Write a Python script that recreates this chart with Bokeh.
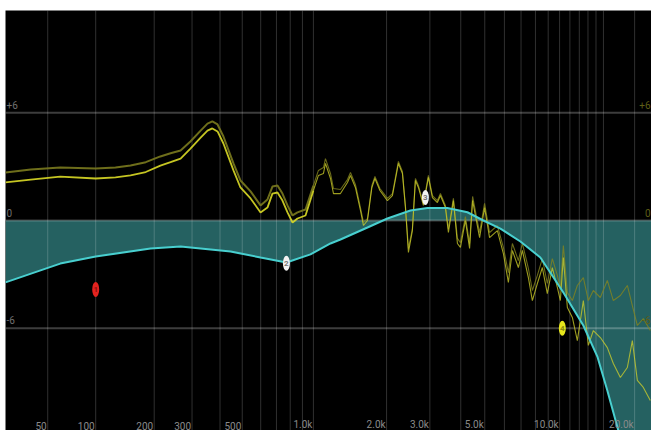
import numpy as np
from bokeh.plotting import figure
from bokeh.models import Range1d
from bokeh.core.properties import value
from bokeh.embed import file_html
from bokeh.resources import INLINE


# Frequency axis: log of (f + 40 Hz), which squeezes the low end a little
def fx(f):
    return np.log10(np.asarray(f, dtype=float) + 40.0)


F_LO, F_HI = 21, 23370
DB_LO, DB_HI = -11.7, 11.7

grid_freqs = [50, 100, 200, 300, 400, 500, 600, 700, 800, 900, 1000,
              2000, 3000, 4000, 5000, 6000, 7000, 8000, 9000, 10000,
              11000, 12000, 13000, 14000, 15000, 20000]
label_freqs = [50, 100, 200, 300, 500, 1000, 2000, 3000, 5000, 10000, 20000]
label_text = ["50", "100", "200", "300", "500", "1.0k", "2.0k", "3.0k",
              "5.0k", "10.0k", "20.0k"]
db_ticks = [6, 0, -6]
db_text = ["+6", "0", "-6"]

# EQ curve (Hz, dB)
eq_freq = [21, 61, 100, 192, 266, 445, 599, 771, 972, 1177, 1294, 1671,
           2016, 2501, 2932, 3533, 4256, 4937, 5781, 6958, 8371, 10354,
           12457, 14178, 15545, 17209, 19225, 23330]
eq_gain = [-3.45, -2.40, -2.01, -1.56, -1.45, -1.73, -2.06, -2.34, -1.89,
           -1.28, -1.06, -0.39, 0.11, 0.56, 0.70, 0.70, 0.46, 0.0, -0.45,
           -1.17, -2.06, -4.01, -5.85, -7.58, -9.47, -11.70, -13.9, -17.5]

# Measured responses (Hz, dB): two traces sharing one frequency grid
meas_freq = [21, 37, 61, 100, 128, 153, 182, 214, 239, 266, 295, 328, 352,
             370, 390, 414, 458, 491, 543, 599, 641, 673, 707, 742, 779,
             818, 858, 927, 1000, 1049, 1101, 1122, 1177, 1211, 1294, 1383,
             1423, 1491, 1564, 1609, 1671, 1742, 1793, 1879, 2016, 2113,
             2235, 2321, 2387, 2455, 2548, 2621, 2695, 2824, 2959, 3072,
             3218, 3310, 3468, 3566, 3736, 3878, 3988, 4177, 4343, 4466,
             4766, 4991, 5228, 5621, 5943, 6225, 6460, 6829, 7087, 7492,
             7774, 8142, 8526, 8927, 9350, 9795, 10071, 10354, 10744, 11254,
             11784, 12457, 13045, 13662, 14574, 15545, 16432, 17533, 18701,
             19584, 20508, 21674, 23117]
meas_a = [2.67, 2.84, 2.95, 2.90, 2.95, 3.06, 3.25, 3.57, 3.75, 3.90, 4.40,
          5.01, 5.40, 5.52, 5.35, 4.68, 3.18, 2.23, 1.62, 0.84, 1.17, 1.89,
          1.95, 1.50, 0.84, 0.28, 0.45, 0.61, 1.95, 2.79, 2.95, 3.45, 2.62,
          1.78, 1.73, 2.28, 2.67, 2.01, 0.72, -0.11, 0.11, 1.95, 2.45, 1.78,
          1.23, 1.50, 3.29, 2.73, 0.84, -1.56, -0.45, 2.34, 1.95, 0.95, 2.51,
          1.39, 1.11, 1.50, 0.84, -0.45, 1.23, -1.00, -1.23, 0.22, -1.28,
          1.34, -0.67, 0.95, -0.67, -0.28, -1.50, -2.90, -1.28, -2.23,
          -1.28, -2.67, -3.90, -3.06, -2.12, -3.51, -2.12, -3.06, -3.79,
          -1.39, -4.01, -4.46, -3.62, -3.18, -4.46, -3.90, -4.29, -3.34,
          -4.46, -4.18, -3.62, -4.74, -5.85, -5.46, -6.13]
meas_b = [2.12, 2.28, 2.45, 2.34, 2.40, 2.51, 2.70, 3.06, 3.25, 3.45, 4.01,
          4.62, 5.01, 5.13, 4.96, 4.29, 2.79, 1.84, 1.23, 0.45, 0.72, 1.50,
          1.56, 1.11, 0.45, -0.11, 0.11, 0.28, 1.67, 2.51, 2.62, 3.18, 2.34,
          1.50, 1.50, 2.12, 2.51, 1.84, 0.56, -0.28, 0.00, 1.84, 2.34, 1.67,
          1.11, 1.39, 3.18, 2.62, 0.72, -1.78, -0.56, 2.23, 1.84, 0.84, 2.40,
          1.28, 1.00, 1.39, 0.72, -0.67, 1.11, -1.28, -1.50, 0.00, -1.56,
          1.11, -0.95, 0.72, -0.95, -0.56, -1.84, -3.45, -1.67, -2.62,
          -1.67, -3.18, -4.46, -3.51, -2.62, -4.07, -2.62, -3.73, -4.46,
          -2.06, -4.85, -5.40, -6.69, -4.46, -6.96, -6.13, -6.52, -7.08,
          -7.97, -8.75, -8.19, -6.69, -8.91, -9.30, -10.03]

# EQ band handles
band_freq = [100, 771, 2877, 10256]
band_gain = [-3.84, -2.38, 1.28, -6.0]
band_id = ["1", "2", "3", "4"]
band_fill = ["#e3231f", "#f2f2f2", "#f2f2f2", "#e6e61c"]
band_digit = ["#8a1010", "#777777", "#777777", "#8a8a10"]

x_lo, x_hi = float(fx(F_LO)), float(fx(F_HI))

p = figure(width=651, height=430,
           x_range=Range1d(x_lo, x_hi), y_range=Range1d(DB_LO, DB_HI),
           output_backend="svg", toolbar_location=None,
           x_axis_location=None, y_axis_location=None,
           min_border_left=5, min_border_top=10,
           min_border_right=0, min_border_bottom=0,
           background_fill_color="black", border_fill_color="white",
           outline_line_color=None)
p.grid.visible = False

# shaded area between 0 dB and the EQ curve
p.varea(x=fx(eq_freq), y1=0, y2=eq_gain, fill_color="#256161")

# grid
gx = fx(grid_freqs)
p.segment(x0=gx, y0=DB_LO, x1=gx, y1=DB_HI,
          line_color="white", line_alpha=0.19, line_width=1)
p.segment(x0=x_lo, y0=db_ticks, x1=x_hi, y1=db_ticks,
          line_color="white", line_alpha=0.24, line_width=2)

# measured traces: smooth low range drawn heavier, noisy top end thinner
mx = fx(meas_freq)
split = meas_freq.index(1000)
lo = slice(0, split + 1)
hi = slice(split, len(meas_freq))
p.line(mx[lo], meas_a[lo], line_color="#7a7a1e", line_alpha=0.9, line_width=2)
p.line(mx[hi], meas_a[hi], line_color="#85851f", line_alpha=0.8, line_width=1.1)
p.line(mx[lo], meas_b[lo], line_color="#dada26", line_alpha=0.9, line_width=1.8)
p.line(mx[hi], meas_b[hi], line_color="#d2d22a", line_alpha=0.75, line_width=1.1)

# EQ curve
p.line(fx(eq_freq), eq_gain, line_color="#48cfcf", line_width=2)

# band handles
bx = fx(band_freq)
p.ellipse(x=bx, y=band_gain, width=7, height=15,
          width_units="screen", height_units="screen",
          fill_color=band_fill, line_color=None)
p.text(x=bx, y=band_gain, text=band_id, text_align="center",
       text_baseline="middle", text_font_size="8px", text_color=band_digit,
       text_font=value("Roboto"), text_font_style="bold")

# frequency labels
p.text(x=fx(label_freqs), y=DB_LO, text=label_text, text_align="right",
       text_baseline="bottom", x_offset=-1, y_offset=-1,
       text_font_size="10px", text_color="#8a8a8a", text_font=value("Roboto"))

# dB labels, left and right
p.text(x=x_lo, y=db_ticks, text=db_text, text_align="left",
       text_baseline="bottom", x_offset=1, y_offset=-4,
       text_font_size="10px", text_color="#707070", text_font=value("Roboto"))
p.text(x=x_hi, y=db_ticks, text=db_text, text_align="right",
       text_baseline="bottom", x_offset=-1, y_offset=-4,
       text_font_size="10px", text_color="#5e5e16", text_font=value("Roboto"))

open("out.html", "w").write(file_html(p, INLINE))
